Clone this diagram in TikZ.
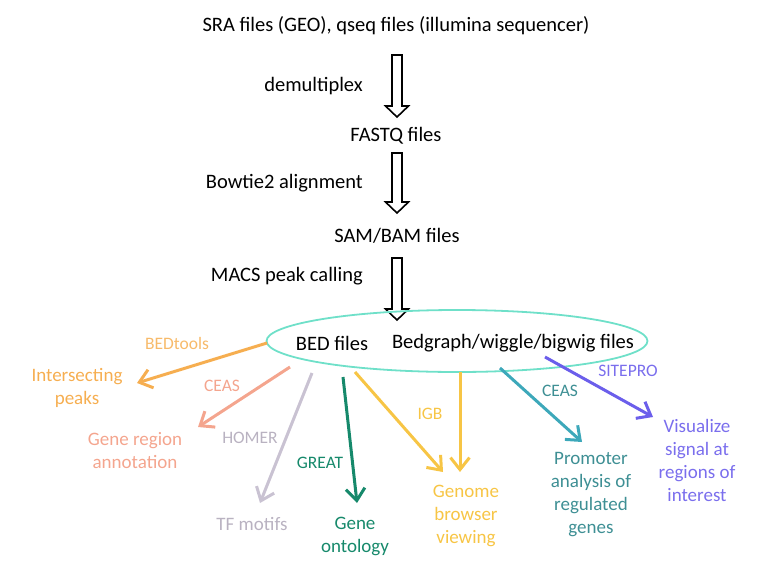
\documentclass[tikz,border=0pt]{standalone}
\usepackage{fontspec}
\setmainfont{Carlito}
\usetikzlibrary{shapes.geometric,arrows.meta,calc}
\definecolor{mint}{HTML}{6FE0C9}
\definecolor{bedorange}{HTML}{F6AE50}
\definecolor{salmon}{HTML}{F4A58E}
\definecolor{lavgray}{HTML}{C9C2D2}
\definecolor{greatgreen}{HTML}{16896B}
\definecolor{igbyellow}{HTML}{F7C545}
\definecolor{ceasteal}{HTML}{3DA8BA}
\definecolor{tealtext}{HTML}{3E8F94}
\definecolor{sitepurple}{HTML}{6B5EEB}

% hollow block arrow between two named coordinates
\newcommand\hollowdown[2]{%
  \draw[hollow] ($(#1)+(-5,0)$) -- ($(#1)+(5,0)$) -- ($(#2)+(5,-11)$)
    -- ($(#2)+(11.5,-11)$) -- (#2) -- ($(#2)+(-11.5,-11)$)
    -- ($(#2)+(-5,-11)$) -- cycle;}

\begin{document}
\begin{tikzpicture}[x=1pt,y=-1pt,
    hollow/.style={draw=black,line width=1.6pt,line join=miter},
    step text/.style={font=\fontsize{20.5}{23}\selectfont,inner sep=2pt},
    tool/.style={line width=3pt,-{Straight Barb[length=12pt,width=19pt]}},
    lbl/.style={font=\fontsize{17.5}{21}\selectfont,inner sep=1pt},
    result/.style={font=\fontsize{19}{23}\selectfont,align=center,inner sep=1pt}]
  \useasboundingbox (0,0) rectangle (780,568);

  % pipeline
  \node[step text] (sra) at (396,26) {SRA files (GEO), qseq files (illumina sequencer)};
  \node[step text] (fastq) at (396,136) {FASTQ files};
  \node[step text] (sam) at (397,236) {SAM/BAM files};
  \node[step text,anchor=east] (demux) at (365,86) {demultiplex};
  \node[step text,anchor=east] (bowtie) at (365,183) {Bowtie2 alignment};
  \node[step text,anchor=east] (macs) at (365,276) {MACS peak calling};

  \coordinate (a1s) at (397,55);  \coordinate (a1e) at (397,117);
  \coordinate (a2s) at (397,153); \coordinate (a2e) at (397,213);
  \coordinate (a3s) at (397,258); \coordinate (a3e) at (397,320);
  \hollowdown{a1s}{a1e}
  \hollowdown{a2s}{a2e}
  \hollowdown{a3s}{a3e}

  \node[ellipse,draw=mint,line width=1.8pt,minimum width=381,minimum height=62] (ell) at (457,341) {};
  \node[step text] (bed) at (332,343) {BED files};
  \node[step text] (bedgraph) at (513,343) {Bedgraph/wiggle/bigwig files};

  % results
  \node[result,text=bedorange] (peaks) at (77,388) {Intersecting\\peaks};
  \node[result,text=salmon] (region) at (135,451) {Gene region\\annotation};
  \node[result,text=lavgray!92!black] (motifs) at (252,524) {TF motifs};
  \node[result,text=greatgreen] (ontology) at (355,536) {Gene\\ontology};
  \node[result,text=igbyellow] (browser) at (466,516) {Genome\\browser\\viewing};
  \node[result,text=tealtext] (promoter) at (591,495) {Promoter\\analysis of\\regulated\\genes};
  \node[result,text=sitepurple!90!white] (visualize) at (697,460) {Visualize\\signal at\\regions of\\interest};

  % tools
  \node[lbl,text=bedorange!85!white] (bedtools) at (177,343) {BEDtools};
  \node[lbl,text=salmon] (ceasA) at (222,386) {CEAS};
  \node[lbl,text=lavgray!92!black] (homer) at (250,438) {HOMER};
  \node[lbl,text=greatgreen] (great) at (320,463) {GREAT};
  \node[lbl,text=igbyellow] (igb) at (430,414) {IGB};
  \node[lbl,text=tealtext] (ceasB) at (560,391) {CEAS};
  \node[lbl,text=sitepurple!90!white] (sitepro) at (628,371) {SITEPRO};

  \coordinate (o1) at (267,343); \coordinate (p1) at (137,383);
  \coordinate (o2) at (290,367); \coordinate (p2) at (198,427);
  \coordinate (o3) at (312,373); \coordinate (p3) at (260,503);
  \coordinate (o4) at (343,377); \coordinate (p4) at (357,503);
  \coordinate (o5) at (355,372); \coordinate (p5) at (443,472);
  \coordinate (o6) at (460,372); \coordinate (p6) at (460,472);
  \coordinate (o7) at (500,368); \coordinate (p7) at (582,442);
  \coordinate (o8) at (545,357); \coordinate (p8) at (653,417);

  \draw[tool,bedorange] (o1) -- (p1);
  \draw[tool,salmon] (o2) -- (p2);
  \draw[tool,lavgray] (o3) -- (p3);
  \draw[tool,greatgreen] (o4) -- (p4);
  \draw[tool,igbyellow] (o5) -- (p5);
  \draw[tool,igbyellow] (o6) -- (p6);
  \draw[tool,ceasteal] (o7) -- (p7);
  \draw[tool,sitepurple] (o8) -- (p8);
\end{tikzpicture}
\end{document}
